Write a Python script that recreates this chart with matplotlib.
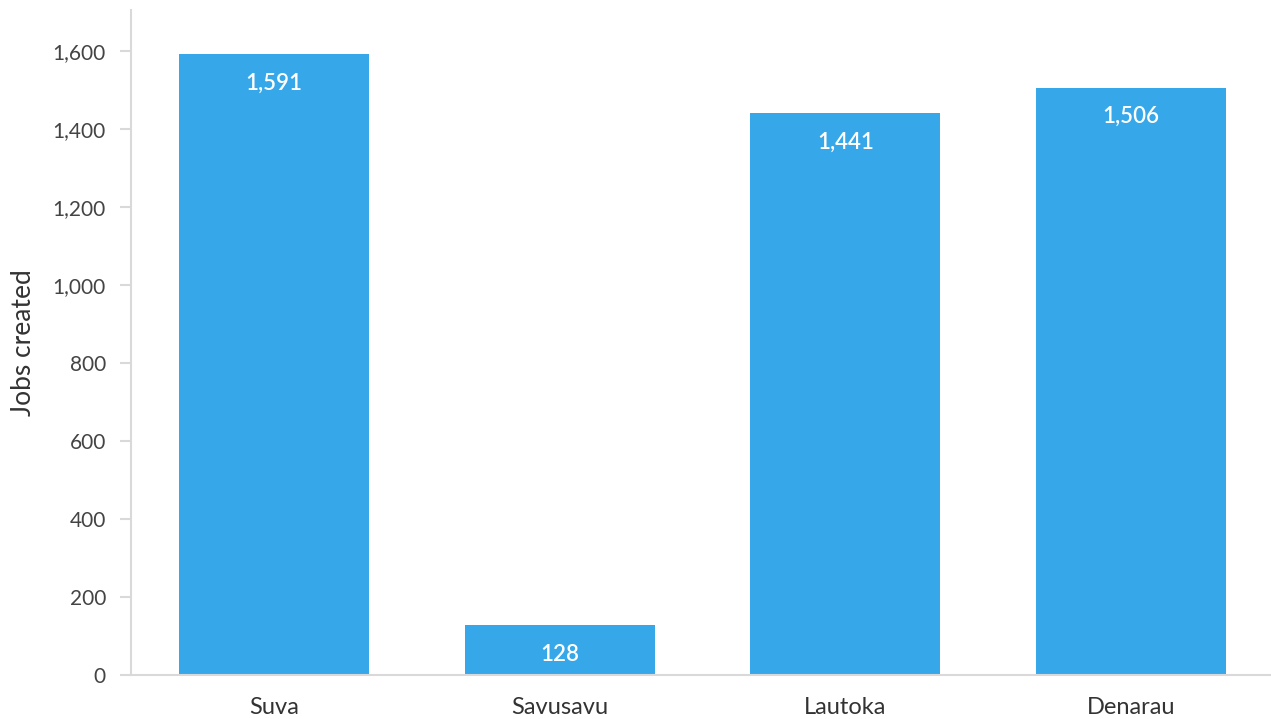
import matplotlib.pyplot as plt
from matplotlib.ticker import FuncFormatter

# datos
ciudades = ['Suva', 'Savusavu', 'Lautoka', 'Denarau']
empleos = [1591, 128, 1441, 1506]
ticks_y = [0, 200, 400, 600, 800, 1000, 1200, 1400, 1600]

plt.rcParams['font.family'] = ['Lato', 'DejaVu Sans']

fig = plt.figure(figsize=(12.71, 7.19), dpi=100)
ax = fig.add_axes([131 / 1271, 44 / 719, 1 - 131 / 1271, (675 - 10) / 719])

x = range(len(ciudades))
barras = ax.bar(x, empleos, width=0.665, color='#36A7E9')

for b, v in zip(barras, empleos):
    ax.annotate(f'{v:,}', xy=(b.get_x() + b.get_width() / 2, v),
                xytext=(0, -29), textcoords='offset pixels',
                ha='center', va='center', color='white', fontsize=16,
                fontweight='semibold')

ax.set_xlim(-0.5, 3.49)
ax.set_ylim(0, 1705)
ax.set_yticks(ticks_y)
ax.yaxis.set_major_formatter(FuncFormatter(lambda v, p: f'{int(v):,}'))
ax.set_xticks(list(x))
ax.set_xticklabels(ciudades)

ax.set_ylabel('Jobs created', fontsize=19, color='#333333', labelpad=12)

for s in ['top', 'right']:
    ax.spines[s].set_visible(False)
for s in ['left', 'bottom']:
    ax.spines[s].set_color('#d9d9d9')
    ax.spines[s].set_linewidth(1.5)

ax.tick_params(axis='y', length=8, width=1.5, color='#d9d9d9',
               labelsize=15, labelcolor='#444444', pad=10)
ax.tick_params(axis='x', length=0, labelsize=17, labelcolor='#333333', pad=16)

fig.savefig('out.png', dpi=100)
